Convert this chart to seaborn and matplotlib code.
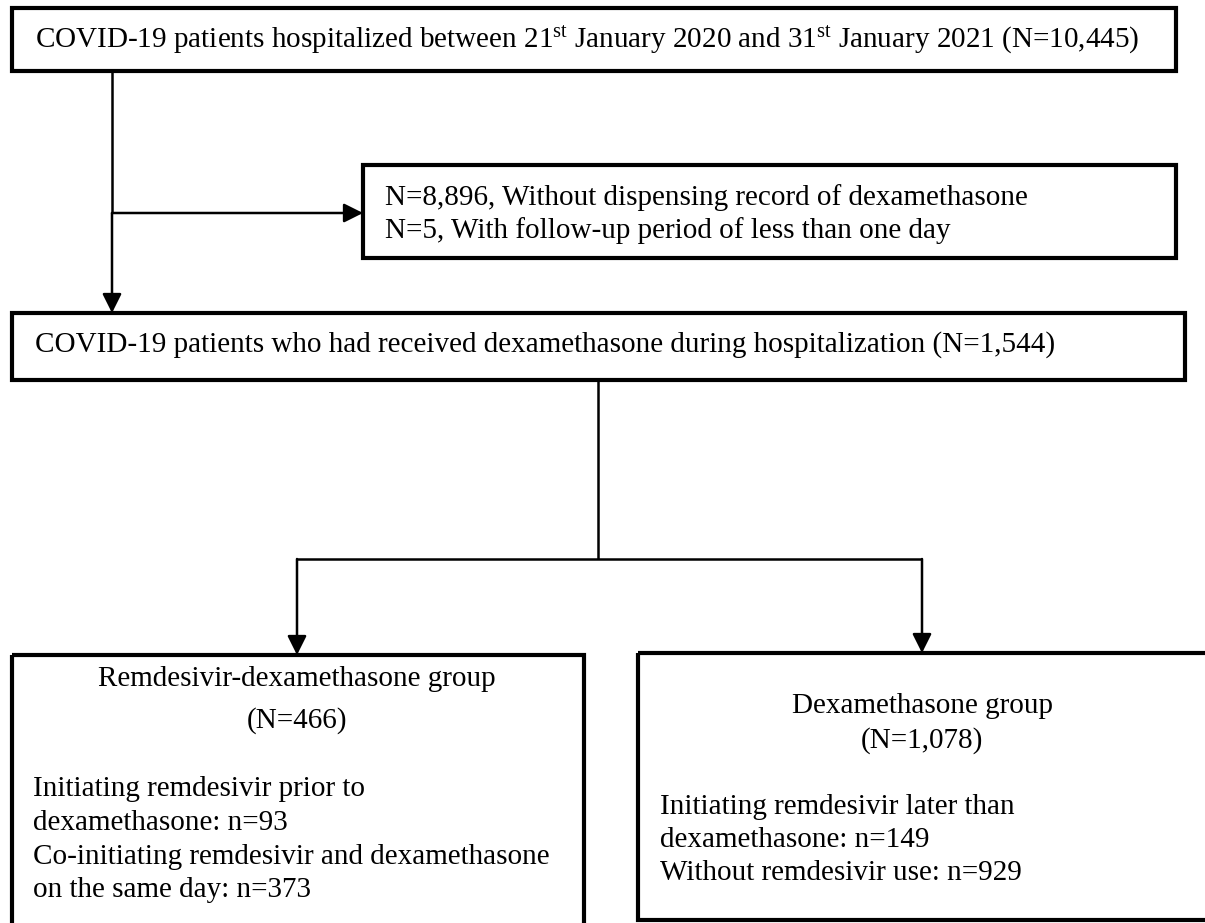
"""Patient selection flowchart for the remdesivir-dexamethasone cohort."""

import matplotlib.pyplot as plt
import seaborn as sns
from matplotlib.patches import Rectangle

# Cohort counts
n_hospitalized = "10,445"
n_no_dexa = "8,896"
n_short_followup = "5"
n_dexa = "1,544"
group_names = ["Remdesivir-dexamethasone group", "Dexamethasone group"]
group_totals = ["466", "1,078"]
rdv_prior_n = "93"
rdv_same_day_n = "373"
rdv_later_n = "149"
no_rdv_n = "929"

sns.set_theme(style="white")
plt.rcParams["font.family"] = ["Liberation Serif", "DejaVu Serif"]
plt.rcParams["mathtext.fontset"] = "custom"
plt.rcParams["mathtext.rm"] = "Liberation Serif"
plt.rcParams["mathtext.it"] = "Liberation Serif:italic"

FS = 21
BOX_LW = 3.0
LINE_LW = 1.8

fig = plt.figure(figsize=(12.05, 9.23), dpi=100)
ax = fig.add_axes([0, 0, 1, 1])
ax.set_xlim(0, 1205)
ax.set_ylim(923, 0)
ax.axis("off")


def box(x0, y0, x1, y1):
    ax.add_patch(Rectangle((x0, y0), x1 - x0, y1 - y0, fill=False,
                           edgecolor="black", linewidth=BOX_LW))


def line(xs, ys):
    ax.plot(xs, ys, color="black", linewidth=LINE_LW, solid_capstyle="butt")


def arrow(x0, y0, x1, y1):
    ax.annotate("", xy=(x1, y1), xytext=(x0, y0),
                arrowprops=dict(arrowstyle="-|>,head_length=0.4,head_width=0.2",
                                color="black", lw=LINE_LW, mutation_scale=29,
                                shrinkA=0, shrinkB=0))


def txt(x, y, s, ha="left"):
    ax.text(x, y, s, ha=ha, va="center", fontsize=FS, color="black")


# Top box
box(12, 8, 1176, 71)
txt(35, 40, "COVID-19 patients hospitalized between 21$^{\\mathrm{st}}$ January 2020 "
    "and 31$^{\\mathrm{st}}$ January 2021 (N=" + n_hospitalized + ")")

# Exclusions
line([112, 112], [71, 213])
arrow(112, 213, 112, 313)
arrow(112, 213, 363, 213)
box(363, 165, 1176, 258)
txt(385, 198, "N=" + n_no_dexa + ", Without dispensing record of dexamethasone")
txt(385, 231, "N=" + n_short_followup + ", With follow-up period of less than one day")

# Dexamethasone cohort
box(12, 313, 1185, 380)
txt(35, 345, "COVID-19 patients who had received dexamethasone during "
    "hospitalization (N=" + n_dexa + ")")

# Split into groups
line([598, 598], [380, 559])
line([297, 922], [559, 559])
arrow(297, 559, 297, 655)
arrow(922, 559, 922, 653)

# Remdesivir-dexamethasone group
box(12, 655, 584, 940)
txt(297, 679, group_names[0], ha="center")
txt(297, 721, "(N=" + group_totals[0] + ")", ha="center")
txt(33, 789, "Initiating remdesivir prior to")
txt(33, 823, "dexamethasone: n=" + rdv_prior_n)
txt(33, 857, "Co-initiating remdesivir and dexamethasone")
txt(33, 890, "on the same day: n=" + rdv_same_day_n)

# Dexamethasone group
box(638, 653, 1230, 920)
txt(922, 706, group_names[1], ha="center")
txt(922, 741, "(N=" + group_totals[1] + ")", ha="center")
txt(660, 807, "Initiating remdesivir later than")
txt(660, 840, "dexamethasone: n=" + rdv_later_n)
txt(660, 873, "Without remdesivir use: n=" + no_rdv_n)

fig.savefig("out.png", dpi=100, facecolor="white")
plt.close(fig)
